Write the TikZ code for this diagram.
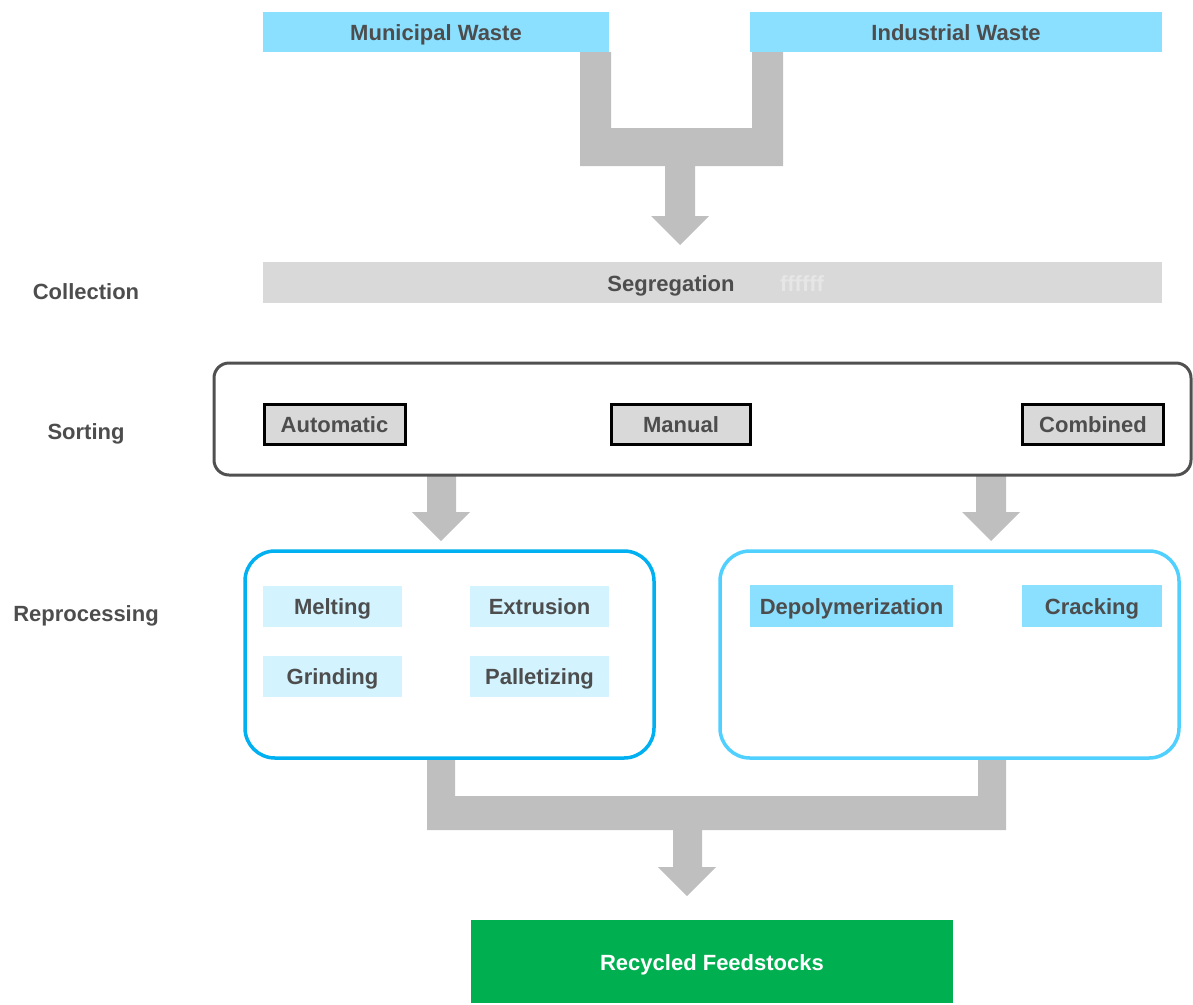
\documentclass[tikz,border=0pt]{standalone}
\usepackage{fontspec}
\setmainfont{Liberation Sans}
\definecolor{txt}{HTML}{4D4D4D}
\definecolor{cyanA}{HTML}{8BDFFF}
\definecolor{cyanL}{HTML}{D3F3FF}
\definecolor{grayA}{HTML}{D9D9D9}
\definecolor{arrowG}{HTML}{BFBFBF}
\definecolor{blueA}{HTML}{00B0F0}
\definecolor{blueL}{HTML}{50D0FF}
\definecolor{greenA}{HTML}{00B050}
\definecolor{borderG}{HTML}{505050}
\definecolor{faintT}{HTML}{E6E6E6}
\begin{document}
\begin{tikzpicture}[x=0.75pt,y=-0.75pt,
  lbl/.style={inner sep=0pt, font=\bfseries\fontsize{16.5}{18}\selectfont, text=txt, text height=13.3pt, text depth=0pt},
  box/.style={rectangle, inner sep=0pt, font=\bfseries\fontsize{16.5}{18}\selectfont, text=txt, text height=13.3pt, text depth=0pt},
  flowarrow/.style={fill=arrowG, draw=none}]
\useasboundingbox (0,0) rectangle (1193,1004);

% block connectors
\fill[flowarrow] (580,52) -- (611,52) -- (611,128) -- (752,128) -- (752,52) -- (783,52) -- (783,166)
  -- (695,166) -- (695,216) -- (709,216) -- (680,245) -- (651,216) -- (665,216) -- (665,166) -- (580,166) -- cycle;
\fill[flowarrow] (427,474) -- (456,474) -- (456,512) -- (470,512) -- (441,541) -- (412,512) -- (427,512) -- cycle;
\fill[flowarrow] (976,474) -- (1006,474) -- (1006,512) -- (1020,512) -- (991,541) -- (962,512) -- (976,512) -- cycle;
\fill[flowarrow] (427,758) -- (455,758) -- (455,796) -- (978,796) -- (978,758) -- (1006,758) -- (1006,830)
  -- (702,830) -- (702,867) -- (716,867) -- (687,896) -- (658,867) -- (673,867) -- (673,830) -- (427,830) -- cycle;

% top sources
\node[box, fill=cyanA, minimum width=346*0.75pt, minimum height=40*0.75pt] (mun) at (436,32) {Municipal Waste};
\node[box, fill=cyanA, minimum width=412*0.75pt, minimum height=40*0.75pt] (ind) at (956,32) {Industrial Waste};

% segregation
\node[box, fill=grayA, minimum width=899*0.75pt, minimum height=41*0.75pt] (seg) at (712.5,282.5) {};
\node[lbl] (segt) at (671,283) {Segregation};
\node[lbl, text=faintT] (segf) at (802,283) {ffffff};

% stage labels
\node[lbl] (lcol) at (86,291) {Collection};
\node[lbl] (lsort) at (86,431) {Sorting};
\node[lbl] (lrep) at (86,613) {Reprocessing};

% sorting
\node[box, draw=borderG, line width=3*0.75pt, rounded corners=15*0.75pt,
  minimum width=977*0.75pt, minimum height=112*0.75pt] (sortc) at (702.5,419) {};
\node[box, fill=grayA, draw=black, line width=3*0.75pt, minimum width=141*0.75pt, minimum height=40*0.75pt] (auto) at (334.5,424) {Automatic};
\node[box, fill=grayA, draw=black, line width=3*0.75pt, minimum width=139*0.75pt, minimum height=40*0.75pt] (man) at (681,424) {Manual};
\node[box, fill=grayA, draw=black, line width=3*0.75pt, minimum width=141*0.75pt, minimum height=40*0.75pt] (comb) at (1093,424) {Combined};

% reprocessing
\node[box, draw=blueA, line width=3.5*0.75pt, rounded corners=30*0.75pt,
  minimum width=409*0.75pt, minimum height=207*0.75pt] (mech) at (449.5,654.5) {};
\node[box, draw=blueL, line width=3.5*0.75pt, rounded corners=30*0.75pt,
  minimum width=459*0.75pt, minimum height=207*0.75pt] (chem) at (949.5,654.5) {};

\node[box, fill=cyanL, minimum width=139*0.75pt, minimum height=41*0.75pt] (melt) at (332.5,606) {Melting};
\node[box, fill=cyanL, minimum width=139*0.75pt, minimum height=41*0.75pt] (grind) at (332.5,676) {Grinding};
\node[box, fill=cyanL, minimum width=139*0.75pt, minimum height=41*0.75pt] (extr) at (539.5,606) {Extrusion};
\node[box, fill=cyanL, minimum width=139*0.75pt, minimum height=41*0.75pt] (pall) at (539.5,676) {Palletizing};
\node[box, fill=cyanA, minimum width=203*0.75pt, minimum height=42*0.75pt] (depo) at (851.5,606) {Depolymerization};
\node[box, fill=cyanA, minimum width=140*0.75pt, minimum height=42*0.75pt] (crack) at (1092,606) {Cracking};

% output
\node[box, fill=greenA, text=white, minimum width=482*0.75pt, minimum height=83*0.75pt] (rec) at (712,961.5) {Recycled Feedstocks};
\end{tikzpicture}
\end{document}
